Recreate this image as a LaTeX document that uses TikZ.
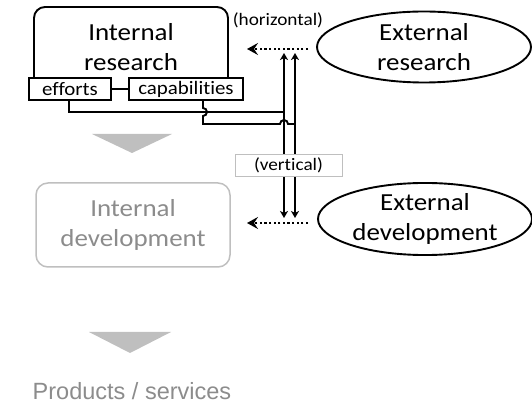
\documentclass[tikz,border=0pt]{standalone}
\usepackage{fontspec}
\setmainfont{Carlito}[FakeStretch=1.1, Ligatures=NoCommon]
\newfontfamily\arialf{Liberation Sans}
\usetikzlibrary{arrows.meta,shapes.geometric}
\definecolor{lgray}{HTML}{BFBFBF}
\definecolor{tgray}{HTML}{8C8C8C}
\tikzset{
  big/.style={font=\fontsize{24.5}{30}\selectfont, align=center},
  small/.style={font=\fontsize{19}{22}\selectfont},
  note/.style={font=\fontsize{17.5}{20}\selectfont},
  ln/.style={line width=1.9pt, black},
  tagbox/.style={draw, line width=1.9pt, fill=white, minimum height=22pt, inner sep=0pt, small},
  ell/.style={draw, ellipse, line width=1.9pt, minimum width=214pt, minimum height=71pt, inner sep=0pt, big},
  dotarrow/.style={line width=2.3pt, dash pattern=on 2.3pt off 2.3pt, -{Stealth[length=11pt,width=12pt,inset=4pt]}},
  uparrow/.style={ln, -{Stealth[length=7pt,width=8pt,inset=2pt]}},
  tri/.style={fill=lgray, draw=none},
}
\begin{document}
\begin{tikzpicture}[x=1pt,y=1pt]
\useasboundingbox (0,0) rectangle (532,404);
% internal research box
\draw[ln, rounded corners=11pt] (34,315) rectangle (228,397);
\node[big] (ir) at (131,357) {Internal\\research};
\node[tagbox, minimum width=82pt] (eff) at (70,315) {efforts};
\node[tagbox, minimum width=114pt] (cap) at (186,315) {capabilities};
\draw[ln] (eff.east) -- (cap.east -| cap.west);
% junction coordinates
\coordinate (j1) at (284,292);
\coordinate (j2) at (295,280);
\coordinate (t1) at (284,351);
\coordinate (t2) at (295,351);
\coordinate (b1) at (284,186);
\coordinate (b2) at (295,186);
% efforts line
\draw[ln] (eff.south -| 69,0) -- (69,292) -- (j1);
% capabilities line with hops
\draw[ln] (cap.south -| 203,0) -- (203,296) arc[start angle=90, end angle=-90, radius=4pt] -- (203,280) -- (280,280) arc[start angle=180, end angle=0, radius=4pt] -- (j2);
% vertical arrows
\draw[uparrow] (j1) -- (t1);
\draw[uparrow] (j2) -- (t2);
\draw[uparrow] (j1) -- (b1);
\draw[uparrow] (j2) -- (b2);
% external ellipses
\node[ell] (er) at (424,357) {External\\research};
\node[ell] (ed) at (425,185) {External\\development};
% dotted arrows
\coordinate (h1s) at (308,355);
\coordinate (h1e) at (247,355);
\coordinate (h2s) at (308,181);
\coordinate (h2e) at (247,181);
\draw[dotarrow] (h1s) -- (h1e);
\draw[dotarrow] (h2s) -- (h2e);
% labels
\node[note] (hor) at (278,384) {(horizontal)};
\node[note, draw=lgray, line width=0.8pt, fill=white, minimum width=107pt, minimum height=22pt, inner sep=0pt] (ver) at (288.5,239) {(vertical)};
% triangles
\fill[tri] (92,270) -- (172,270) -- (132,251) -- cycle;
\draw[lgray, line width=1.5pt, rounded corners=12pt] (36,137) rectangle (230,221);
\node[big, text=tgray] (idv) at (133,179) {Internal\\development};
\fill[tri] (89,72) -- (171,72) -- (130,51) -- cycle;
\node[anchor=base, text=tgray, font=\arialf\fontsize{23.5}{26}\selectfont] (ps) at (132,5) {Products / services};
\end{tikzpicture}
\end{document}
